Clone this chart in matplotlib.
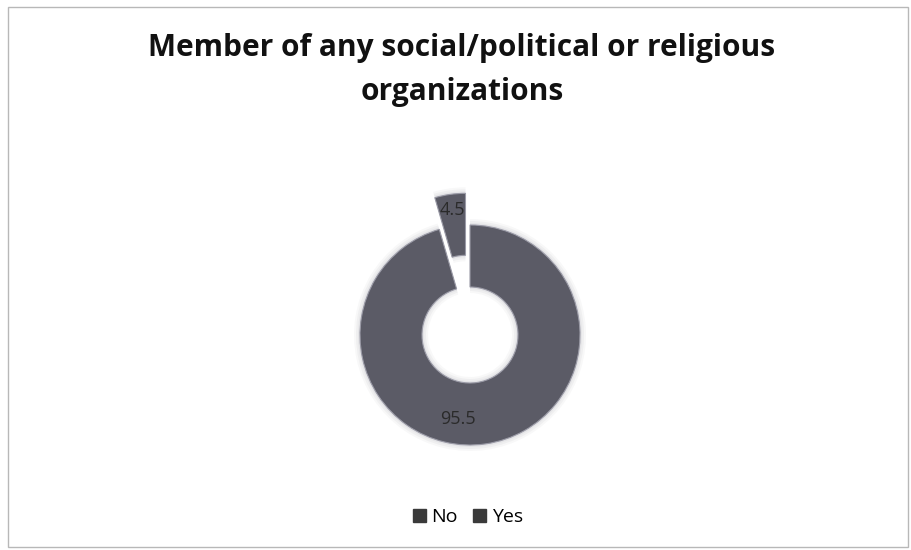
import matplotlib
matplotlib.use("Agg")
import matplotlib.pyplot as plt
from matplotlib.patches import Rectangle, Patch

categories = ["No", "Yes"]
values = [95.5, 4.5]
title = "Member of any social/political or religious\norganizations"

W, H = 912, 550
fig = plt.figure(figsize=(W / 100, H / 100), dpi=100)
fig.patch.set_facecolor("white")

# outer frame
fig.patches.append(Rectangle((8 / W, 3 / H), 900 / W, 540 / H, transform=fig.transFigure,
                             fill=False, edgecolor="#b8b8b8", linewidth=1.0))

ax = fig.add_axes([0, 0, 1, 1])
cx, cy, R = 470, H - 335, 110
ring_w = 62
colors = ["#5b5b66", "#5b5b66"]

# soft glow behind ring
for k, a in enumerate([0.06, 0.08, 0.10]):
    ax.pie(values, radius=R + 6 - 2 * k, center=(cx, cy), startangle=90, counterclock=False,
           explode=[0, 32], colors=["#8a8a98"] * 2,
           wedgeprops=dict(width=ring_w + 12 - 4 * k, linewidth=0, alpha=a))

wedges, texts, autotexts = ax.pie(
    values, radius=R, center=(cx, cy), startangle=90, counterclock=False,
    explode=[0, 32], colors=colors, autopct=lambda p: f"{p:.1f}", pctdistance=0.75,
    wedgeprops=dict(width=ring_w, edgecolor="#9a9aa6", linewidth=0.8),
    textprops=dict(fontsize=13, color="#2a2a2a", family="Open Sans"))

# nudge labels to where the reference places them
x, y = autotexts[1].get_position()
autotexts[1].set_position((cx + (x - cx) * 1.1, cy + (y - cy) * 1.1))
x, y = autotexts[0].get_position()
autotexts[0].set_position((x - 24, y - 2))

ax.set_xlim(0, W)
ax.set_ylim(0, H)
ax.set_aspect("equal")
ax.axis("off")

fig.text(462 / W, 1 - 70 / H, title, ha="center", va="center", fontsize=21.5,
         fontweight="bold", family="Open Sans", color="#111111", linespacing=1.6)

handles = [Patch(facecolor="#3a3a3a", edgecolor="#3a3a3a") for _ in categories]
fig.legend(handles, categories, loc="center", bbox_to_anchor=(468 / W, 1 - 517 / H),
           ncol=2, frameon=False, handlelength=0.65, handleheight=0.65, handletextpad=0.3,
           columnspacing=0.8, prop=dict(family="Open Sans", size=14))

fig.savefig("out.png", dpi=100, facecolor="white")
